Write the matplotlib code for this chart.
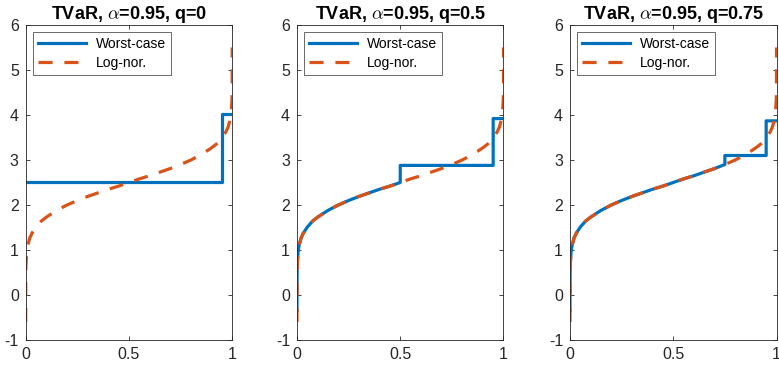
import matplotlib
matplotlib.use("Agg")
import matplotlib.pyplot as plt

plt.rcParams['font.family'] = ['Liberation Sans', 'DejaVu Sans']
plt.rcParams['mathtext.fontset'] = 'cm'
plt.rcParams['axes.unicode_minus'] = False

# Log-normal curve (probability level u vs value)
lognor_u = [0.0, 0.00001, 0.0001, 0.001, 0.005, 0.01, 0.02, 0.03, 0.05, 0.075,
            0.1, 0.15, 0.2, 0.25, 0.3, 0.35, 0.4, 0.45, 0.5, 0.55, 0.6, 0.65,
            0.7, 0.75, 0.8, 0.85, 0.9, 0.925, 0.95, 0.97, 0.98, 0.99, 0.995,
            0.999, 0.9999, 0.99999, 1.0]
lognor_y = [-0.60, -0.06, 0.27, 0.65, 0.95, 1.10, 1.27, 1.37, 1.51, 1.64,
            1.73, 1.88, 2.00, 2.10, 2.19, 2.27, 2.35, 2.42, 2.50, 2.58, 2.65, 2.73,
            2.81, 2.90, 3.00, 3.12, 3.27, 3.36, 3.49, 3.63, 3.73, 3.90, 4.05,
            4.35, 4.73, 5.06, 5.50]

# Worst-case curves
wc0_u = [0.0, 0.95, 0.95, 1.0]
wc0_y = [2.52, 2.52, 4.03, 4.03]

wc1_u = [0.000001, 0.00001, 0.0001, 0.001, 0.005, 0.01, 0.02, 0.03, 0.05, 0.075,
         0.1, 0.15, 0.2, 0.25, 0.3, 0.35, 0.4, 0.45, 0.5, 0.5, 0.95, 0.95, 1.0]
wc1_y = [-0.35, -0.06, 0.27, 0.65, 0.95, 1.10, 1.27, 1.37, 1.51, 1.64,
         1.73, 1.88, 2.00, 2.10, 2.19, 2.27, 2.35, 2.42, 2.50, 2.88, 2.88, 3.92, 3.92]

wc2_u = [0.000001, 0.00001, 0.0001, 0.001, 0.005, 0.01, 0.02, 0.03, 0.05, 0.075,
         0.1, 0.15, 0.2, 0.25, 0.3, 0.35, 0.4, 0.45, 0.5, 0.55, 0.6, 0.65,
         0.7, 0.75, 0.75, 0.95, 0.95, 1.0]
wc2_y = [-0.35, -0.06, 0.27, 0.65, 0.95, 1.10, 1.27, 1.37, 1.51, 1.64,
         1.73, 1.88, 2.00, 2.10, 2.19, 2.27, 2.35, 2.42, 2.50, 2.58, 2.65, 2.73,
         2.81, 2.90, 3.10, 3.10, 3.87, 3.87]

titles = [r'TVaR, $\alpha$=0.95, q=0', r'TVaR, $\alpha$=0.95, q=0.5', r'TVaR, $\alpha$=0.95, q=0.75']
worst = [(wc0_u, wc0_y), (wc1_u, wc1_y), (wc2_u, wc2_y)]
xticks = [0, 0.5, 1]
xticklabels = ['0', '0.5', '1']
yticks = [-1, 0, 1, 2, 3, 4, 5, 6]

blue = '#0072BD'
orange = '#D95319'

fig = plt.figure(figsize=(7.79, 3.66), dpi=100)
lefts = [25.7 / 779, 297 / 779, 570 / 779]
w = 206.5 / 779
bottom = 26 / 366
h = 315 / 366

for i in range(3):
    ax = fig.add_axes([lefts[i], bottom, w, h])
    wu, wy = worst[i]
    ax.plot(wu, wy, color=blue, lw=2.3, label='Worst-case')
    ax.plot(lognor_u, lognor_y, color=orange, lw=2.3, ls=(0, (4.4, 3.7)), label='Log-nor.')
    ax.set_xlim(0, 1)
    ax.set_ylim(-1, 6)
    ax.set_xticks(xticks)
    ax.set_xticklabels(xticklabels)
    ax.set_yticks(yticks)
    ax.tick_params(direction='in', top=True, right=True, labelsize=11.5, length=3,
                   width=0.6, colors='#262626', pad=5)
    for sp in ax.spines.values():
        sp.set_color('#262626')
        sp.set_linewidth(0.6)
    ax.set_title(titles[i], fontsize=13, fontweight='bold', pad=4)
    leg = ax.legend(loc='upper left', fontsize=10, handlelength=3.5, frameon=True,
                    fancybox=False, edgecolor='#262626', borderpad=0.35,
                    labelspacing=0.4, handletextpad=0.7, borderaxespad=0.5)
    leg.get_frame().set_linewidth(0.6)

fig.savefig('out.png', dpi=100)
